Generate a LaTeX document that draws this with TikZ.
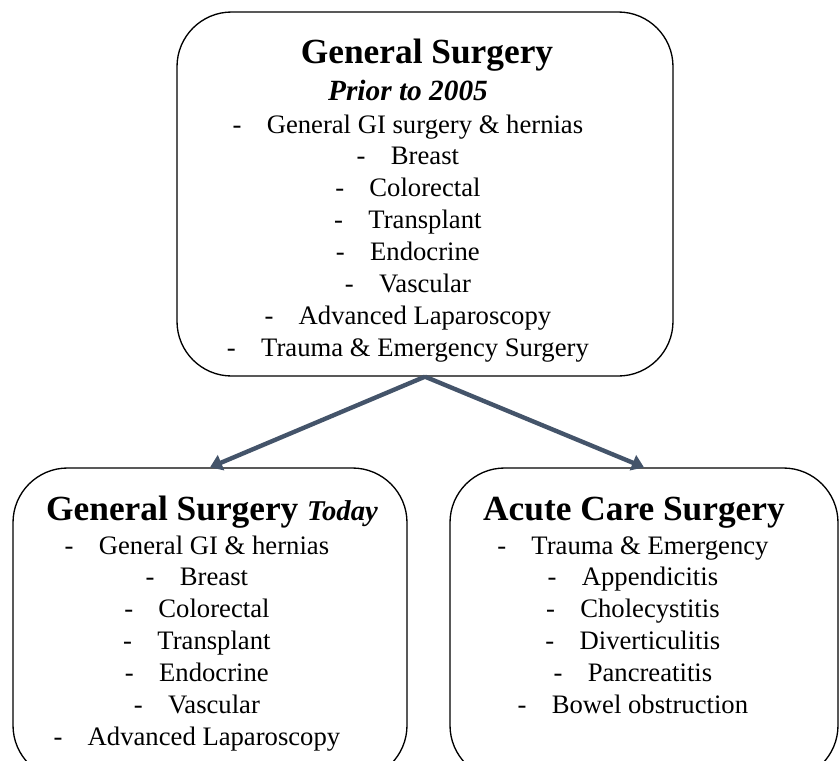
\documentclass[tikz,border=0pt]{standalone}
\usepackage{fontspec}
\setmainfont{Liberation Serif}
\usepackage{xcolor}
\definecolor{arrowblue}{RGB}{68,84,106}
\usepackage{tikz}
\usetikzlibrary{positioning, arrows.meta}
% list entry with the dash hanging to the left of the centred text
\newcommand{\dashitem}[1]{\makebox[0pt][r]{-\hspace{19pt}}#1}
\tikzstyle{panel} = [
    rectangle, draw=black,
    line width=1pt,
    rounded corners=41pt,
]
\tikzstyle{heading} = [
    anchor=base, inner sep=0pt,
    font=\fontsize{26.5}{30}\selectfont\bfseries,
]
\tikzstyle{item} = [
    anchor=base, inner sep=0pt,
    font=\fontsize{20}{24}\selectfont,
]
\tikzstyle{arrow} = [-{Triangle[length=9pt,width=12pt]}, line width=3.3pt, draw=arrowblue]

\begin{document}
\begin{tikzpicture}[x=0.75pt, y=-0.75pt]
    \useasboundingbox (0,0) rectangle (840,761);
    \clip (0,0) rectangle (840,761);

    % boxes
    \node (before) at (425,194) [panel, minimum width=372pt, minimum height=273pt] {};
    \node (today) at (210,624) [panel, minimum width=295.5pt, minimum height=234pt] {};
    \node (acute) at (644,624) [panel, minimum width=291pt, minimum height=234pt] {};

    % headings
    \node (beforetitle) at (427,63) [heading] {General Surgery};
    \node (beforeyear) at (408,100) [heading, font=\fontsize{22}{26}\selectfont\bfseries\itshape] {Prior to 2005};
    \node (todaytitle) at (212,520) [heading] {General Surgery {\itshape\fontsize{21.5}{26}\selectfont Today}};
    \node (acutetitle) at (634,520) [heading] {Acute Care Surgery};

    % lists
    \foreach \entry [count=\i] in {General GI surgery \& hernias, Breast, Colorectal,
        Transplant, Endocrine, Vascular, Advanced Laparoscopy, Trauma \& Emergency Surgery} {
        \node (before\i) at (425,{133+31.9*(\i-1)}) [item] {\dashitem{\entry}};
    }
    \foreach \entry [count=\i] in {General GI \& hernias, Breast, Colorectal,
        Transplant, Endocrine, Vascular, Advanced Laparoscopy} {
        \node (today\i) at (214,{554+31.9*(\i-1)}) [item] {\dashitem{\entry}};
    }
    \foreach \entry [count=\i] in {Trauma \& Emergency, Appendicitis, Cholecystitis,
        Diverticulitis, Pancreatitis, Bowel obstruction} {
        \node (acute\i) at (650,{554+31.9*(\i-1)}) [item] {\dashitem{\entry}};
    }

    % arrows
    \draw [arrow] (before.south) to (today.north);
    \draw [arrow] (before.south) to (acute.north);
\end{tikzpicture}
\end{document}
